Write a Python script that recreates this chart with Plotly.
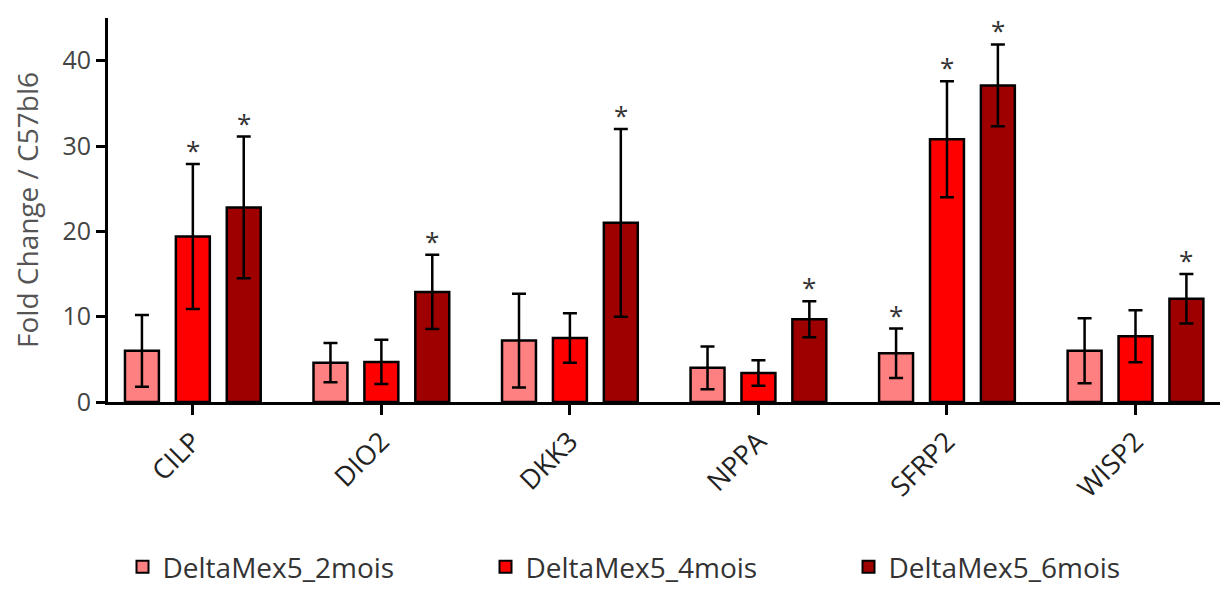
import plotly.graph_objects as go

genes = ["CILP", "DIO2", "DKK3", "NPPA", "SFRP2", "WISP2"]
series_names = ["DeltaMex5_2mois", "DeltaMex5_4mois", "DeltaMex5_6mois"]
colors = ["#FF8080", "#FF0000", "#9E0000"]

mean_2mois = [6.0, 4.6, 7.2, 4.0, 5.7, 6.0]
err_2mois = [4.2, 2.3, 5.5, 2.5, 2.9, 3.8]
mean_4mois = [19.4, 4.7, 7.5, 3.4, 30.8, 7.7]
err_4mois = [8.5, 2.6, 2.9, 1.5, 6.8, 3.05]
mean_6mois = [22.8, 12.9, 21.0, 9.7, 37.1, 12.1]
err_6mois = [8.3, 4.35, 11.0, 2.1, 4.8, 2.9]
signif_2mois = [False, False, False, False, True, False]
signif_4mois = [True, False, False, False, True, False]
signif_6mois = [True, True, True, True, True, True]

means = [mean_2mois, mean_4mois, mean_6mois]
errs = [err_2mois, err_4mois, err_6mois]
sigs = [signif_2mois, signif_4mois, signif_6mois]

step = 0.27
bar_w = 0.18

fig = go.Figure()
for i, name in enumerate(series_names):
    center = (i - 1) * step
    fig.add_trace(go.Bar(
        name=name, x=genes, y=means[i],
        width=bar_w, offset=center - bar_w / 2,
        marker=dict(color=colors[i], line=dict(color="black", width=2.5)),
        error_y=dict(type="data", array=errs[i], visible=True,
                     color="black", thickness=2.5, width=7),
    ))
    for j, g in enumerate(genes):
        if sigs[i][j]:
            fig.add_annotation(x=j + center, y=means[i][j] + errs[i][j],
                               text="*", showarrow=False, yshift=14,
                               font=dict(size=26, color="#333333", family="Open Sans"))

fig.update_layout(
    width=1228, height=594,
    margin=dict(l=100, r=10, t=10, b=187),
    plot_bgcolor="white", paper_bgcolor="white",
    barmode="overlay",
    font=dict(family="Open Sans", color="#333333"),
    legend=dict(orientation="h", x=0.5, xanchor="center", y=-0.43, yanchor="middle",
                font=dict(size=28, color="#333333"), entrywidth=318,
                itemsizing="constant"),
    showlegend=True,
)
fig.update_xaxes(
    range=[-0.45, 5.48], showline=True, linecolor="black", linewidth=3,
    ticks="outside", ticklen=10, tickwidth=2.5, tickcolor="black",
    tickangle=-45, tickfont=dict(size=27, color="#222222"),
    showgrid=False, zeroline=False, automargin=False,
)
fig.update_yaxes(
    range=[0, 45], tickvals=[0, 10, 20, 30, 40], showline=True, linecolor="black",
    linewidth=3, ticks="outside", ticklen=9, tickwidth=2.5, tickcolor="black",
    tickfont=dict(size=25, color="#444444"), showgrid=False, zeroline=False,
    automargin=False,
    title=dict(text="Fold Change / C57bl6", font=dict(size=28, color="#555555"), standoff=18),
)

fig.write_html("out.html")
